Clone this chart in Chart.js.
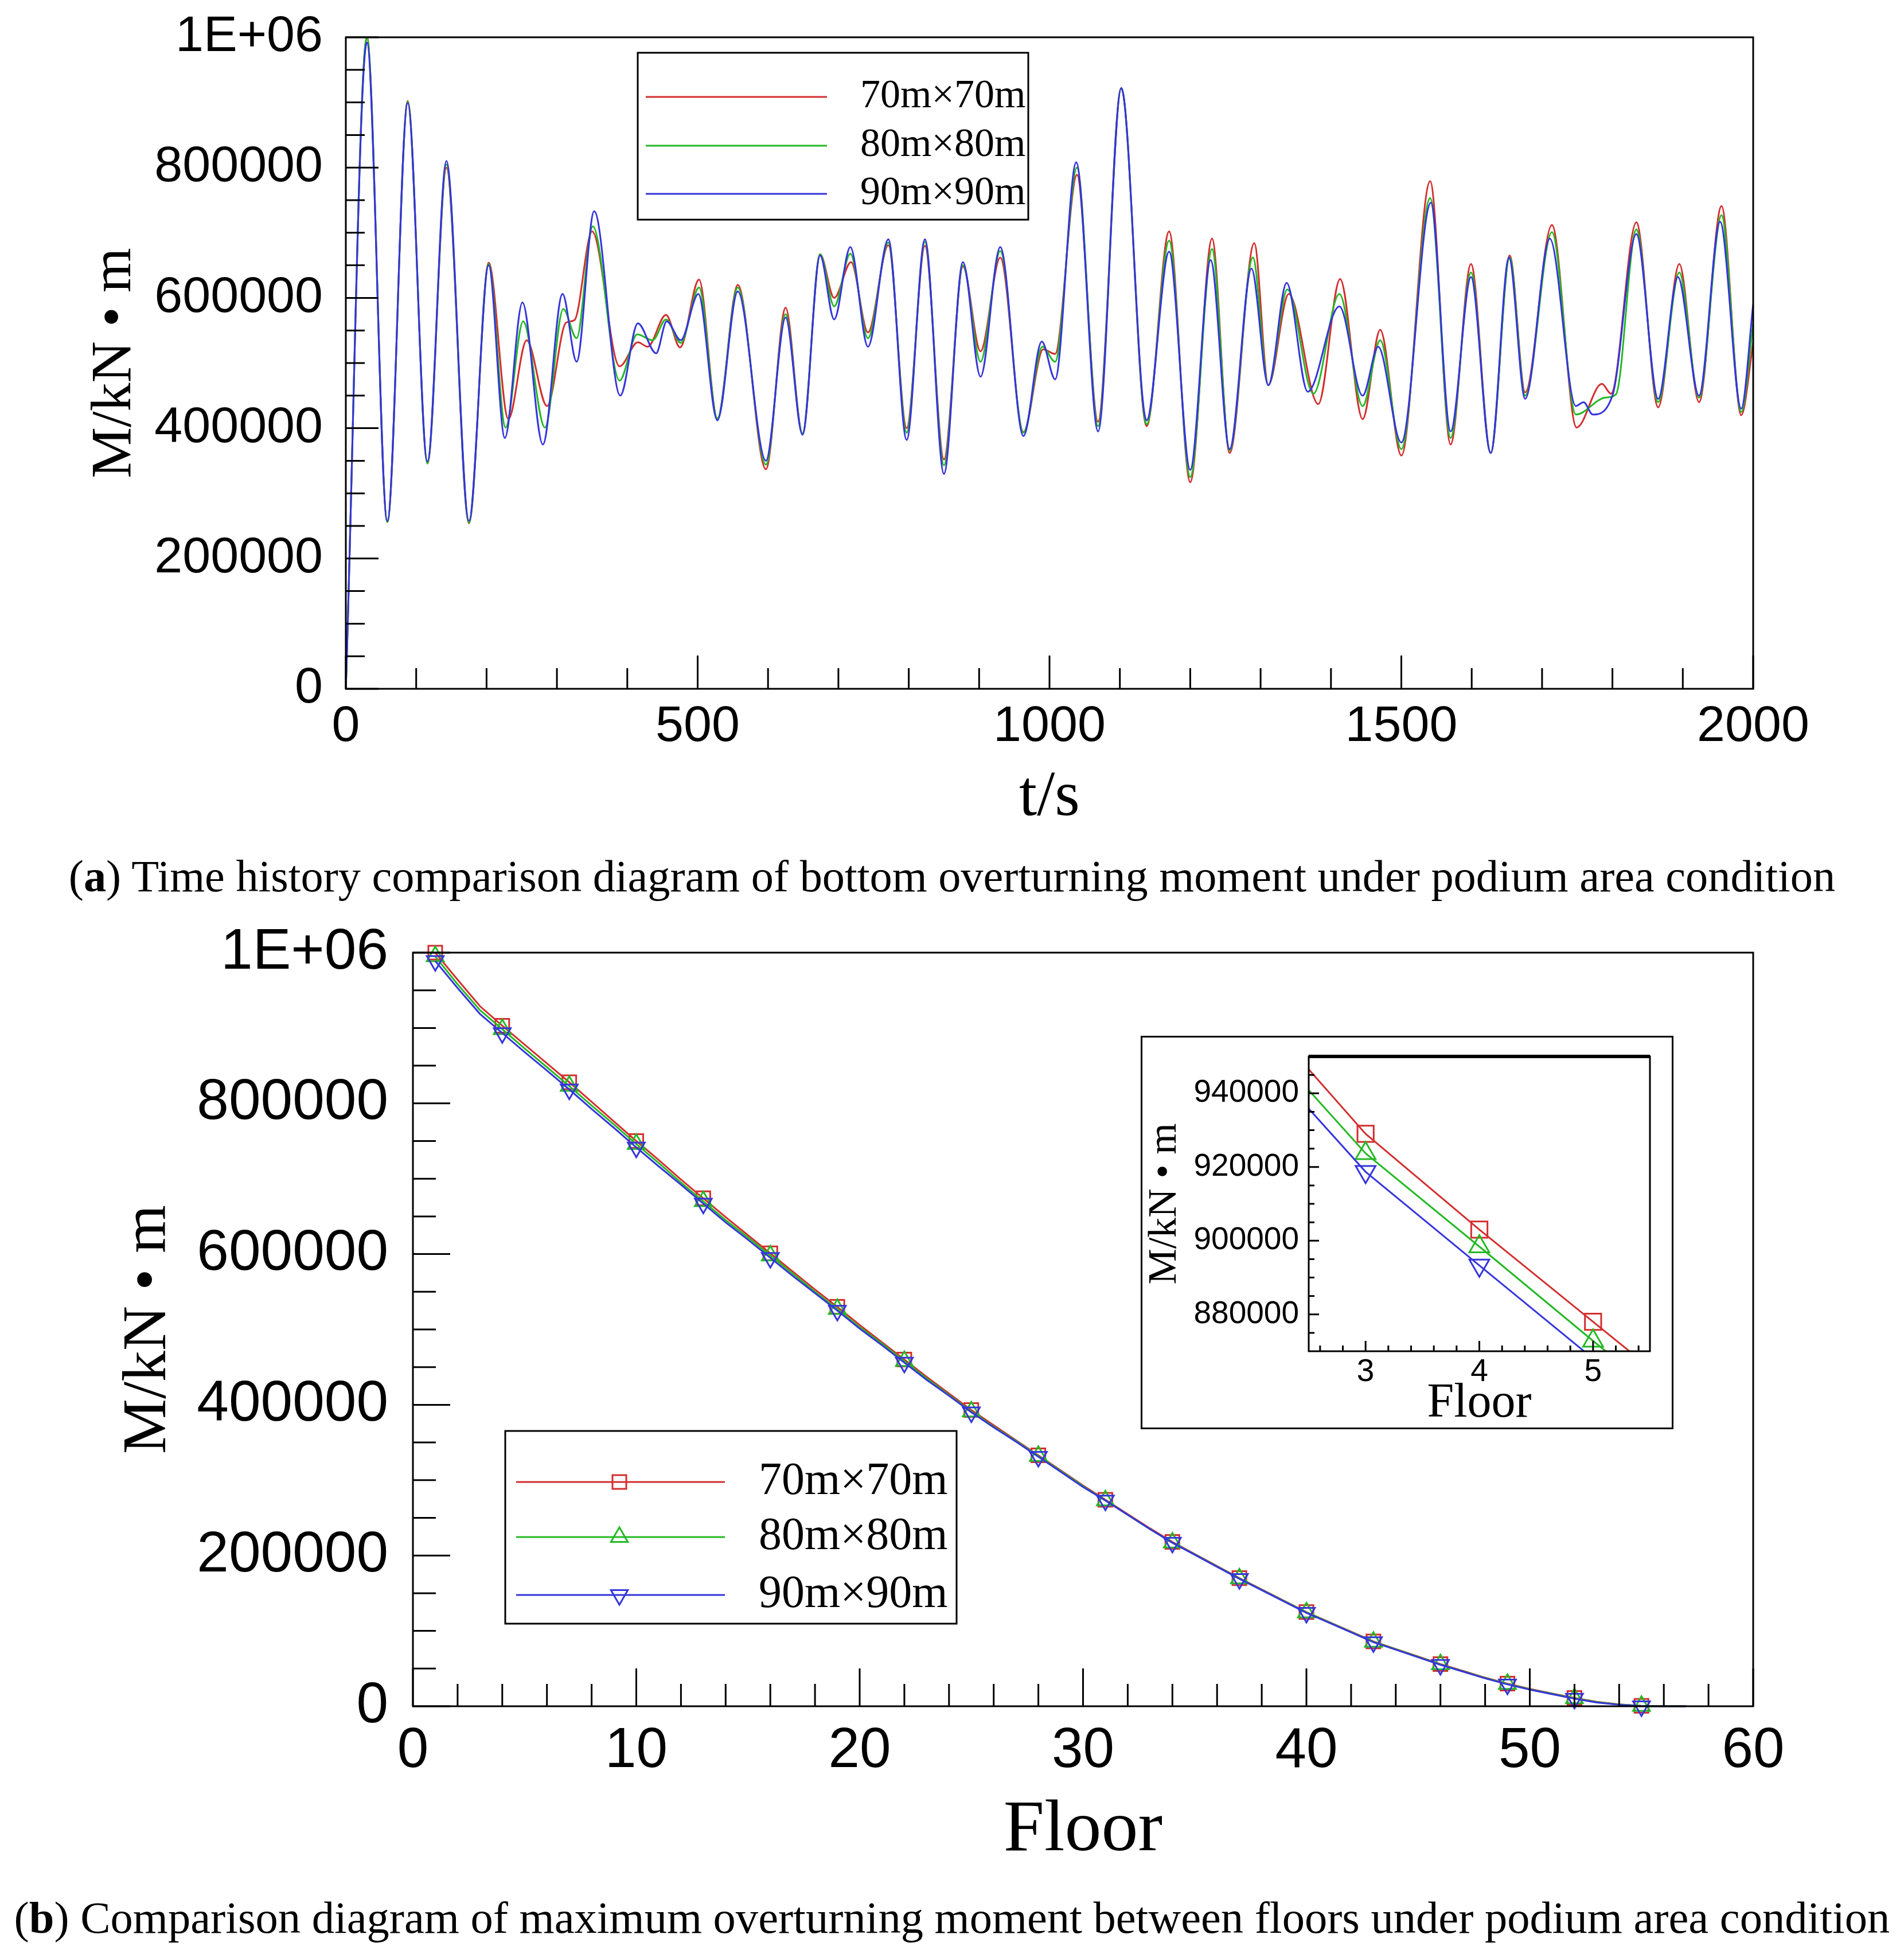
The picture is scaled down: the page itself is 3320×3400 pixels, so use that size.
<!DOCTYPE html>
<html><head><meta charset="utf-8">
<script src="https://cdn.jsdelivr.net/npm/chart.js@4.4.1/dist/chart.umd.min.js"></script>
<style>
html,body{margin:0;padding:0;background:#fff}
body{width:3320px;height:3400px;position:relative;overflow:hidden}
canvas{position:absolute}
.cap{position:absolute;left:0;width:3320px;text-align:center;white-space:nowrap;font-family:'Liberation Serif',serif;line-height:1;color:#000}
</style></head><body>
<canvas id="ca" width="3320" height="1460" style="left:0;top:0"></canvas>
<canvas id="cb" width="3320" height="1700" style="left:0;top:1560px"></canvas>
<canvas id="ci" width="929" height="686" style="left:1989px;top:1806px"></canvas>
<div class="cap" id="capA"><span>(<b>a</b>) Time history comparison diagram of bottom overturning moment under podium area condition</span></div>
<div class="cap" id="capB"><span>(<b>b</b>) Comparison diagram of maximum overturning moment between floors under podium area condition</span></div>
<script>
// ---------------- data ----------------
const seriesNames = ['70m×70m', '80m×80m', '90m×90m'];

// (a) time history, extrema
const tRed = [0,30,59,88,116,143,175,203,231,257,286,313,325,350,389,415,429,455,475,502,528,557,597,625,649,674,694,718,742,771,797,823,850,877,902,930,963,991,1008,1039,1069,1102,1138,1170,1200,1231,1256,1291,1311,1340,1382,1413,1445,1470,1500,1541,1570,1599,1627,1654,1676,1714,1749,1785,1798,1834,1865,1895,1923,1955,1983,2000];
const mRed = [0,1000000,256000,902000,346000,800000,254000,654000,414000,535000,434000,562000,566000,702000,495000,532000,525000,574000,524000,628000,414000,620000,337000,585000,392000,667000,600000,655000,547000,681000,400000,680000,352000,648000,518000,662000,394000,521000,514000,789000,410000,922000,403000,702000,317000,691000,362000,684000,466000,606000,437000,629000,414000,551000,358000,779000,375000,652000,362000,665000,455000,712000,401000,468000,453000,716000,432000,652000,440000,741000,420000,531000];

const tGreen = [0,30,59,88,116,143,175,203,227,252,283,309,328,351,389,414,436,455,476,502,528,557,597,625,649,674,694,717,742,771,797,823,850,877,902,930,963,990,1008,1039,1069,1102,1138,1170,1200,1231,1256,1289,1311,1338,1375,1412,1445,1470,1500,1541,1570,1599,1627,1654,1676,1714,1748,1790,1805,1834,1865,1895,1923,1955,1983,2000];
const mGreen = [0,1000000,256000,901000,346000,805000,255000,652000,401000,564000,401000,583000,538000,710000,473000,544000,535000,567000,531000,616000,415000,616000,344000,575000,392000,667000,587000,668000,538000,685000,393000,686000,343000,650000,502000,672000,393000,525000,502000,800000,403000,922000,406000,688000,325000,675000,366000,662000,466000,613000,453000,606000,434000,535000,368000,753000,385000,639000,362000,662000,450000,701000,421000,447000,452000,705000,440000,639000,447000,727000,425000,560000];

const tBlue = [0,30,59,88,116,143,175,203,226,251,280,308,328,353,390,415,441,456,476,501,528,557,597,625,649,674,694,717,742,771,797,823,850,877,902,930,963,989,1008,1038,1069,1102,1138,1170,1200,1229,1256,1287,1311,1337,1367,1412,1445,1467,1500,1542,1570,1599,1627,1653,1676,1711,1748,1759,1772,1800,1834,1865,1893,1923,1953,1983,2000];
const mBlue = [0,992000,258000,899000,349000,810000,258000,650000,385000,593000,375000,606000,502000,733000,450000,561000,515000,564000,535000,606000,412000,610000,350000,570000,390000,665000,567000,678000,525000,690000,382000,690000,330000,655000,479000,678000,388000,533000,475000,808000,395000,922000,412000,671000,336000,658000,368000,645000,466000,623000,456000,587000,450000,525000,378000,746000,395000,632000,362000,662000,445000,691000,434000,440000,421000,450000,698000,445000,632000,450000,717000,430000,590000];

// (b) maximum moment per floor
const floors = [1,2,3,4,5,6,7,8,9,10,11,12,13,14,15,16,17,18,19,20,21,22,23,24,25,26,27,28,29,30,31,32,33,34,35,36,37,38,39,40,41,42,43,44,45,46,47,48,49,50,51,52,53,54,55,56,57];
const floorRed = [1000000,964000,929000,903000,878000,853000,828000,802000,776000,750000,725000,699000,674000,649000,625000,601000,577000,553000,530000,506000,483000,460000,437000,415000,393000,373000,353000,333000,313000,293000,274000,255000,236000,218000,202000,186000,170000,155000,140000,125000,112000,99000,86000,76000,66000,56000,47000,38000,30000,23000,17000,11000,6000,2500,500,0,0];
const floorGreen = [995000,958000,923700,898400,872800,848000,823000,797000,772000,746000,721000,695000,670000,645000,622000,598000,574000,550000,527000,503000,481000,458000,435000,413000,391000,371000,352000,332000,312000,292000,273000,254000,235000,217000,201500,185500,169500,154500,139500,124500,111500,98500,85500,75500,65500,55500,46500,37500,29500,22500,16500,10500,5500,2200,300,0,0];
const floorBlue = [989000,953000,918700,893300,868000,843500,818500,792500,767500,741500,716500,692000,667000,642000,619000,595000,571000,548000,525000,501000,479000,456000,433000,412000,390000,370000,351000,331000,311000,291000,273000,254000,235000,217000,201000,185000,169000,154000,139000,124000,111000,98000,85000,75000,65000,55000,46000,37000,29000,22000,16000,10000,5000,2000,0,0,0];

// tick labels
const timeTicks = [0, 500, 1000, 1500, 2000];
const momentTicks = [0, 200000, 400000, 600000, 800000, 1000000];
const floorTicks = [0, 10, 20, 30, 40, 50, 60];
const insetFloorTicks = [3, 4, 5];
const insetMomentTicks = [880000, 900000, 920000, 940000];

// ---------------- helpers ----------------
const COL = {red: '#d32f2f', green: '#25b825', blue: '#3535dc'};
Chart.defaults.color = '#000';
Chart.defaults.font.family = "'Liberation Sans', Arial, sans-serif";
const SERIF = "'Liberation Serif', 'Times New Roman', serif";
const SANS = "'Liberation Sans', Arial, sans-serif";
const xy = (xs, ys) => xs.map((x, i) => ({x: x, y: ys[i]}));
const fixTicks = arr => (s => { s.ticks = arr.map(v => ({value: v})); });
const momentLabel = v => (v === 1000000 ? '1E+06' : String(v));
const plainLabel = v => String(v);
const fitX = h => (s => { s.height = h; s.paddingLeft = 0; s.paddingRight = 0; s.paddingTop = 0; s.paddingBottom = 0; });
const fitY = w => (s => { s.width = w; s.paddingLeft = 0; s.paddingRight = 0; s.paddingTop = 0; s.paddingBottom = 0; });

function drawMarker(ctx, style, rot, x, y, r) {
  ctx.beginPath();
  if (style === 'rect') {
    const s = r * Math.SQRT1_2;
    ctx.rect(x - s, y - s, 2 * s, 2 * s);
  } else {
    let a = rot * Math.PI / 180;
    ctx.moveTo(x + Math.sin(a) * r, y - Math.cos(a) * r);
    a += 2 * Math.PI / 3; ctx.lineTo(x + Math.sin(a) * r, y - Math.cos(a) * r);
    a += 2 * Math.PI / 3; ctx.lineTo(x + Math.sin(a) * r, y - Math.cos(a) * r);
    ctx.closePath();
  }
  ctx.stroke();
}

function makeFrame(o) {
  return {
    id: 'frame',
    beforeDraw(chart) {
      if (o.bg) { const c = chart.ctx; c.save(); c.fillStyle = o.bg; c.fillRect(0, 0, chart.width, chart.height); c.restore(); }
    },
    afterDraw(chart) {
      const ctx = chart.ctx, a = chart.chartArea, sx = chart.scales.x, sy = chart.scales.y;
      ctx.save();
      ctx.strokeStyle = '#000'; ctx.lineWidth = o.lw; ctx.lineCap = 'butt';
      const mk = (scale, range, step) => {
        const majors = scale.ticks.map(t => t.value);
        const n = Math.round((range[1] - range[0]) / step);
        const out = [];
        for (let i = 0; i <= n; i++) {
          const v = range[0] + i * step;
          out.push({p: scale.getPixelForValue(v), major: majors.some(m => Math.abs(m - v) < step * 1e-3)});
        }
        return out;
      };
      ctx.beginPath();
      mk(sx, o.xRange, o.xStep).forEach(t => { const len = t.major ? o.xLen[0] : o.xLen[1]; ctx.moveTo(t.p, a.bottom); ctx.lineTo(t.p, a.bottom - len); });
      mk(sy, o.yRange, o.yStep).forEach(t => { const len = t.major ? o.yLen[0] : o.yLen[1]; ctx.moveTo(a.left, t.p); ctx.lineTo(a.left + len, t.p); });
      ctx.stroke();
      ctx.strokeRect(a.left, a.top, a.right - a.left, a.bottom - a.top);
      if (o.topLw) { ctx.lineWidth = o.topLw; ctx.beginPath(); ctx.moveTo(a.left, a.top); ctx.lineTo(a.right, a.top); ctx.stroke(); }
      if (o.outer) { ctx.lineWidth = o.outer; ctx.strokeRect(o.outer / 2, o.outer / 2, chart.width - o.outer, chart.height - o.outer); }
      const L = o.legend;
      if (L) {
        ctx.fillStyle = '#fff';
        ctx.fillRect(L.box[0], L.box[1], L.box[2] - L.box[0], L.box[3] - L.box[1]);
        ctx.strokeStyle = '#000'; ctx.lineWidth = 3;
        ctx.strokeRect(L.box[0], L.box[1], L.box[2] - L.box[0], L.box[3] - L.box[1]);
        chart.data.datasets.forEach((ds, i) => {
          const y = L.rows[i];
          ctx.strokeStyle = ds.borderColor; ctx.lineWidth = L.lineW;
          ctx.beginPath(); ctx.moveTo(L.line[0], y); ctx.lineTo(L.line[1], y); ctx.stroke();
          if (L.markerX) { ctx.lineWidth = 3; drawMarker(ctx, ds.pointStyle, ds.pointRotation || 0, L.markerX, y, L.r); }
          ctx.fillStyle = '#000'; ctx.font = L.font; ctx.textAlign = 'left'; ctx.textBaseline = 'middle';
          ctx.fillText(ds.label, L.textX, y);
        });
      }
      ctx.restore();
    }
  };
}

const baseOpts = {responsive: false, animation: false, devicePixelRatio: 1, events: []};

// ---------------- chart (a) ----------------
new Chart(document.getElementById('ca'), {
  type: 'line',
  data: {datasets: [
    {label: seriesNames[0], data: xy(tRed, mRed), borderColor: COL.red, order: 3},
    {label: seriesNames[1], data: xy(tGreen, mGreen), borderColor: COL.green, order: 2},
    {label: seriesNames[2], data: xy(tBlue, mBlue), borderColor: COL.blue, order: 1}
  ]},
  options: Object.assign({}, baseOpts, {
    layout: {padding: {left: 0, top: 65, right: 263, bottom: 0}},
    elements: {line: {borderWidth: 3, cubicInterpolationMode: 'monotone', fill: false}, point: {radius: 0}},
    plugins: {legend: {display: false}, tooltip: {enabled: false}},
    scales: {
      x: {type: 'linear', min: 0, max: 2000,
        grid: {display: false, drawTicks: false}, border: {display: false},
        afterBuildTicks: fixTicks(timeTicks), afterFit: fitX(259),
        ticks: {font: {family: SANS, size: 88}, padding: 14, maxRotation: 0, autoSkip: false, callback: plainLabel},
        title: {display: true, text: 't/s', font: {family: SERIF, size: 112, lineHeight: 1}, padding: {top: 0, bottom: 12}}},
      y: {type: 'linear', min: 0, max: 1000000,
        grid: {display: false, drawTicks: false}, border: {display: false},
        afterBuildTicks: fixTicks(momentTicks), afterFit: fitY(603),
        ticks: {font: {family: SANS, size: 88}, padding: 40, autoSkip: false, callback: momentLabel},
        title: {display: true, text: 'M/kN • m', font: {family: SERIF, size: 100, lineHeight: 1}, padding: {top: 151, bottom: 0}}}
    }
  }),
  plugins: [makeFrame({lw: 3, xRange: [0, 2000], xStep: 100, xLen: [58, 36], yRange: [0, 1000000], yStep: 50000, yLen: [57, 33],
    legend: {box: [1112, 92, 1793, 383], rows: [169, 254, 338], line: [1126, 1442], lineW: 3, textX: 1500, font: '70px ' + SERIF}})]
});

// ---------------- chart (b) ----------------
const markerEvery3 = c => ((floors[c.dataIndex] - 1) % 3 === 0 ? 17 : 0);
function floorSets(radius, clip) {
  return [
    {label: seriesNames[0], data: xy(floors, floorRed), borderColor: COL.red, pointStyle: 'rect', pointRotation: 0, pointRadius: radius, order: 3},
    {label: seriesNames[1], data: xy(floors, floorGreen), borderColor: COL.green, pointStyle: 'triangle', pointRotation: 0, pointRadius: radius, order: 2},
    {label: seriesNames[2], data: xy(floors, floorBlue), borderColor: COL.blue, pointStyle: 'triangle', pointRotation: 180, pointRadius: radius, order: 1}
  ].map(d => Object.assign(d, {pointBorderColor: d.borderColor, pointBackgroundColor: 'rgba(0,0,0,0)', pointBorderWidth: 3, borderWidth: 3, tension: 0, clip: clip}));
}

new Chart(document.getElementById('cb'), {
  type: 'line',
  data: {datasets: floorSets(markerEvery3, 22)},
  options: Object.assign({}, baseOpts, {
    layout: {padding: {left: 0, top: 101, right: 263, bottom: 0}},
    plugins: {legend: {display: false}, tooltip: {enabled: false}},
    scales: {
      x: {type: 'linear', min: 0, max: 60,
        grid: {display: false, drawTicks: false}, border: {display: false},
        afterBuildTicks: fixTicks(floorTicks), afterFit: fitX(285),
        ticks: {font: {family: SANS, size: 98}, padding: 20, maxRotation: 0, autoSkip: false, callback: plainLabel},
        title: {display: true, text: 'Floor', font: {family: SERIF, size: 128, lineHeight: 1}, padding: {top: 0, bottom: 4}}},
      y: {type: 'linear', min: 0, max: 1000000,
        grid: {display: false, drawTicks: false}, border: {display: false},
        afterBuildTicks: fixTicks(momentTicks), afterFit: fitY(720),
        ticks: {font: {family: SANS, size: 100}, padding: 43, autoSkip: false, callback: momentLabel},
        title: {display: true, text: 'M/kN • m', font: {family: SERIF, size: 108, lineHeight: 1}, padding: {top: 206, bottom: 0}}}
    }
  }),
  plugins: [makeFrame({lw: 3, xRange: [0, 60], xStep: 2, xLen: [66, 39], yRange: [0, 1000000], yStep: 50000, yLen: [65, 40],
    legend: {box: [881, 935, 1668, 1271], rows: [1024, 1120, 1221], line: [900, 1264], lineW: 3, markerX: 1080, r: 17, textX: 1323, font: '80px ' + SERIF}})]
});

// ---------------- inset ----------------
new Chart(document.getElementById('ci'), {
  type: 'line',
  data: {datasets: floorSets(20, 0)},
  options: Object.assign({}, baseOpts, {
    layout: {padding: {left: 0, top: 36, right: 41, bottom: 0}},
    plugins: {legend: {display: false}, tooltip: {enabled: false}},
    scales: {
      x: {type: 'linear', min: 2.5, max: 5.5,
        grid: {display: false, drawTicks: false}, border: {display: false},
        afterBuildTicks: fixTicks(insetFloorTicks), afterFit: fitX(136),
        ticks: {font: {family: SANS, size: 55}, padding: 4, maxRotation: 0, autoSkip: false, callback: plainLabel},
        title: {display: true, text: 'Floor', font: {family: SERIF, size: 84, lineHeight: 1}, padding: {top: 0, bottom: 2}}},
      y: {type: 'linear', min: 870000, max: 950000,
        grid: {display: false, drawTicks: false}, border: {display: false},
        afterBuildTicks: fixTicks(insetMomentTicks), afterFit: fitY(293),
        ticks: {font: {family: SANS, size: 55}, padding: 17, autoSkip: false, callback: plainLabel},
        title: {display: true, text: 'M/kN • m', font: {family: SERIF, size: 70, lineHeight: 1}, padding: {top: 8, bottom: 0}}}
    }
  }),
  plugins: [makeFrame({lw: 3, topLw: 6, outer: 3, bg: '#fff', xRange: [2.6, 5.4], xStep: 0.2, xLen: [18, 10], yRange: [875000, 945000], yStep: 5000, yLen: [18, 10]})]
});

// ---------------- captions ----------------
function fitCap(id, target, centerY) {
  const d = document.getElementById(id), s = d.firstElementChild;
  d.style.fontSize = '100px';
  const w = s.getBoundingClientRect().width;
  const fs = 100 * target / w;
  d.style.fontSize = fs + 'px';
  d.style.top = (centerY - fs * 0.5) + 'px';
}
fitCap('capA', 3081, 1528);
fitCap('capB', 3271, 3344);
</script>
</body></html>
